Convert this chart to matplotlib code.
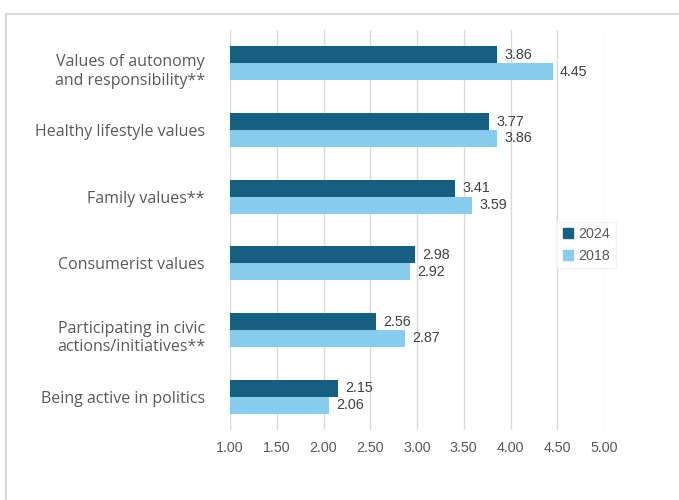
import matplotlib
matplotlib.use("Agg")
import matplotlib.pyplot as plt
import matplotlib.transforms as mtransforms
from matplotlib.patches import Rectangle, Patch
import numpy as np

categories = [
    "Values of autonomy\nand responsibility**",
    "Healthy lifestyle values",
    "Family values**",
    "Consumerist values",
    "Participating in civic\nactions/initiatives**",
    "Being active in politics",
]
values_2024 = [3.86, 3.77, 3.41, 2.98, 2.56, 2.15]
values_2018 = [4.45, 3.86, 3.59, 2.92, 2.87, 2.06]
xticks = [1.0, 1.5, 2.0, 2.5, 3.0, 3.5, 4.0, 4.5, 5.0]

dark = "#175f80"
light = "#87ccec"

W, H = 679, 500
fig = plt.figure(figsize=(W / 100, H / 100), dpi=100)
ax = fig.add_axes([230 / W, 1 - 430 / H, (604 - 230) / W, 400 / H])

# outer frame of the chart area
fig.patches.append(Rectangle((6 / W, -0.1), 1.2, 1 - 14 / H + 0.1,
                             transform=fig.transFigure, fill=False,
                             edgecolor="#d0d0d0", linewidth=1.2))

n = len(categories)
y = np.arange(n)
h = 0.255
ax.barh(y - h / 2, [v - 1 for v in values_2024], left=1, height=h,
        color=dark, zorder=3)
ax.barh(y + h / 2, [v - 1 for v in values_2018], left=1, height=h,
        color=light, zorder=3)

for yi, v in zip(y, values_2024):
    ax.text(v + 0.08, yi - h / 2, f"{v:.2f}", va="center", ha="left",
            fontsize=10.3, color="#404040", family="Liberation Sans")
for yi, v in zip(y, values_2018):
    ax.text(v + 0.08, yi + h / 2, f"{v:.2f}", va="center", ha="left",
            fontsize=10.3, color="#404040", family="Liberation Sans")

ax.set_xlim(1, 5)
ax.set_ylim(n - 0.5, -0.5)
ax.set_xticks(xticks)
ax.set_xticklabels([f"{t:.2f}" for t in xticks], family="Liberation Sans",
                   fontsize=10.3, color="#595959")
ax.tick_params(axis="x", length=0, pad=8)
ax.set_yticks(y)
ax.set_yticklabels(categories, family="Open Sans", fontsize=11.5,
                   color="#595959", linespacing=1.2)
ax.tick_params(axis="y", length=0, pad=18)
# two-line labels sit a little lower than their bar pair
shift = mtransforms.ScaledTranslation(0, -5 / 100, fig.dpi_scale_trans)
for lab in ax.get_yticklabels():
    lab.set_horizontalalignment("right")
    if "\n" in lab.get_text():
        lab.set_transform(lab.get_transform() + shift)

ax.grid(axis="x", color="#d9d9d9", linewidth=1, zorder=0)
ax.grid(axis="y", visible=False)
for s in ax.spines.values():
    s.set_visible(False)

handles = [Patch(color=dark, label="2024"), Patch(color=light, label="2018")]
leg = ax.legend(handles=handles, loc="center left",
                bbox_to_anchor=((550 - 230) / (604 - 230), 0.4625),
                frameon=True, fancybox=False, framealpha=1,
                edgecolor="#f2f2f2", handlelength=0.7, handleheight=0.7,
                handletextpad=0.4, borderpad=0.4, labelspacing=0.5,
                prop={"family": "Liberation Sans", "size": 10.3})
for t in leg.get_texts():
    t.set_color("#595959")

fig.savefig("out.png", dpi=100)
